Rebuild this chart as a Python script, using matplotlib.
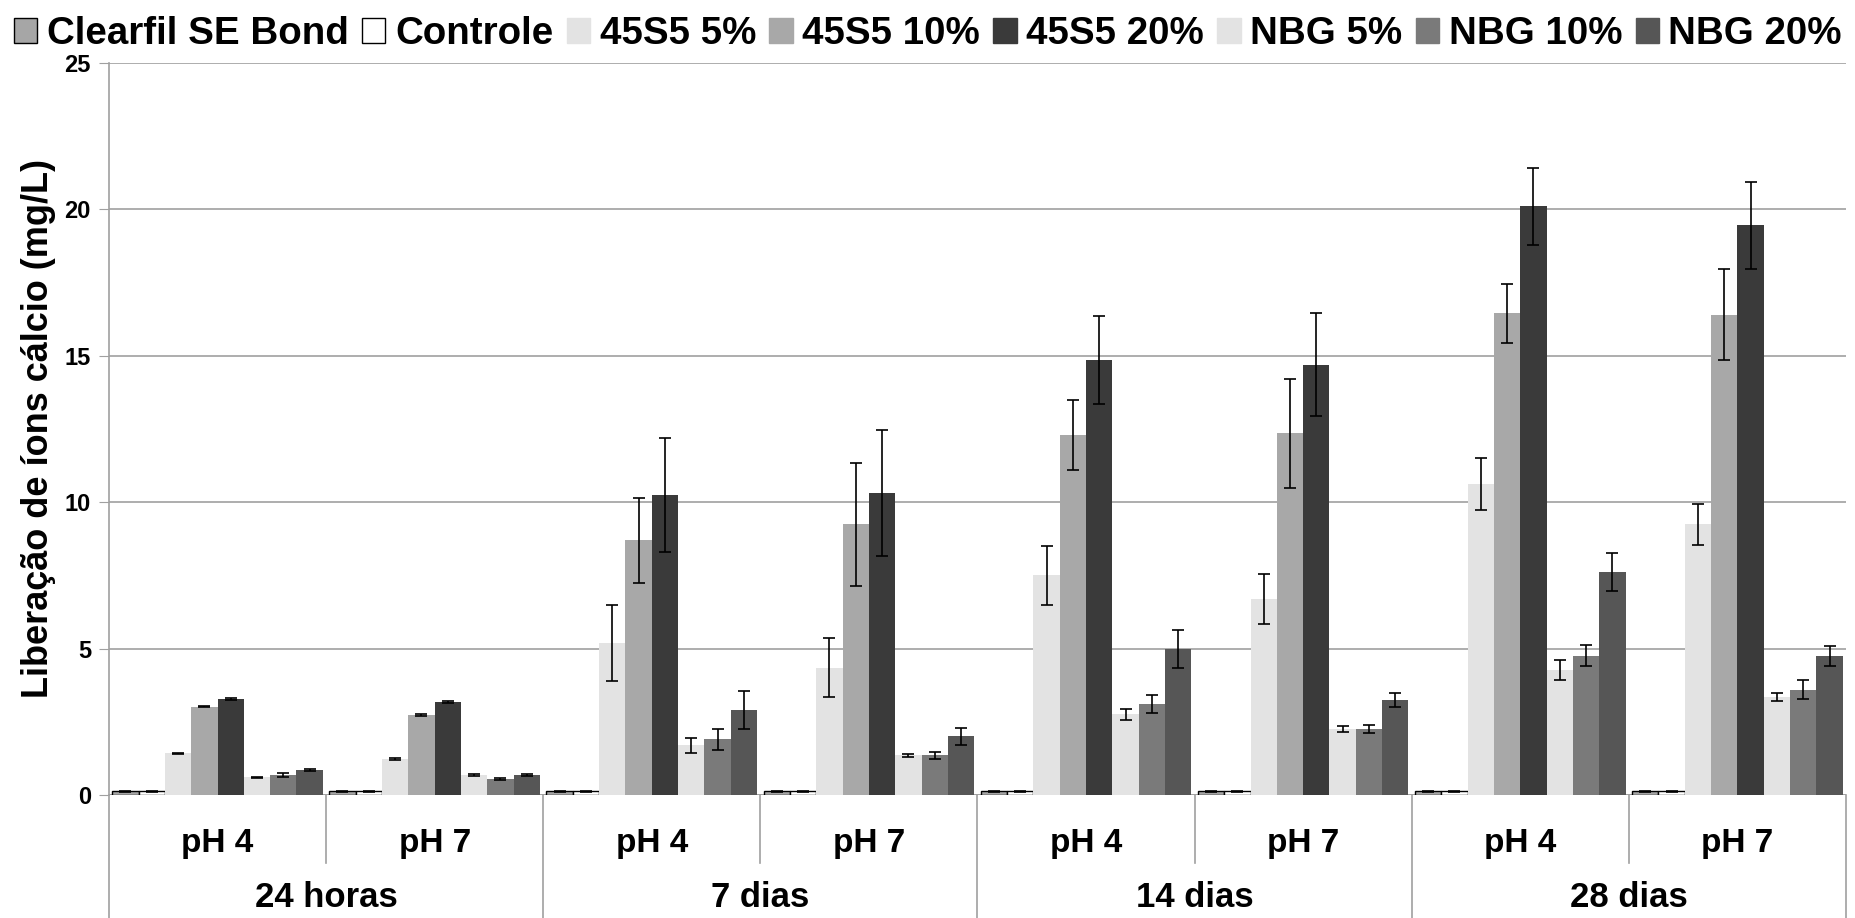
import numpy as np
import matplotlib.pyplot as plt
from matplotlib.patches import Patch

# data
periods = ['24 horas', '7 dias', '14 dias', '28 dias']
ph_labels = ['pH 4', 'pH 7']
series = ['Clearfil SE Bond', 'Controle', '45S5 5%', '45S5 10%', '45S5 20%',
          'NBG 5%', 'NBG 10%', 'NBG 20%']

clearfil = [0.12, 0.12, 0.12, 0.12, 0.12, 0.12, 0.12, 0.12]
controle = [0.12, 0.12, 0.12, 0.12, 0.12, 0.12, 0.12, 0.12]
s45_5 = [1.42, 1.22, 5.2, 4.35, 7.5, 6.7, 10.62, 9.25]
s45_10 = [3.02, 2.72, 8.7, 9.25, 12.3, 12.35, 16.45, 16.4]
s45_20 = [3.27, 3.18, 10.25, 10.3, 14.85, 14.7, 20.1, 19.45]
nbg_5 = [0.6, 0.68, 1.7, 1.35, 2.75, 2.25, 4.28, 3.35]
nbg_10 = [0.68, 0.55, 1.9, 1.35, 3.1, 2.25, 4.75, 3.6]
nbg_20 = [0.85, 0.68, 2.9, 2.0, 5.0, 3.25, 7.6, 4.75]

clearfil_err = [0.02, 0.02, 0.02, 0.02, 0.02, 0.02, 0.02, 0.02]
controle_err = [0.02, 0.02, 0.02, 0.02, 0.02, 0.02, 0.02, 0.02]
s45_5_err = [0.03, 0.03, 1.3, 1.0, 1.0, 0.85, 0.88, 0.7]
s45_10_err = [0.03, 0.03, 1.45, 2.1, 1.2, 1.85, 1.0, 1.55]
s45_20_err = [0.03, 0.03, 1.95, 2.15, 1.5, 1.75, 1.3, 1.5]
nbg_5_err = [0.03, 0.03, 0.25, 0.05, 0.2, 0.1, 0.34, 0.15]
nbg_10_err = [0.08, 0.03, 0.35, 0.12, 0.3, 0.15, 0.36, 0.33]
nbg_20_err = [0.03, 0.03, 0.65, 0.3, 0.65, 0.25, 0.65, 0.33]

values = [clearfil, controle, s45_5, s45_10, s45_20, nbg_5, nbg_10, nbg_20]
errors = [clearfil_err, controle_err, s45_5_err, s45_10_err, s45_20_err,
          nbg_5_err, nbg_10_err, nbg_20_err]
colors = ['#a6a6a6', '#ffffff', '#e3e3e3', '#a8a8a8', '#3a3a3a',
          '#e3e3e3', '#7a7a7a', '#565656']
edges = ['black', 'black', 'none', 'none', 'none', 'none', 'none', 'none']

plt.rcParams['font.family'] = ['Liberation Sans', 'DejaVu Sans']
plt.rcParams['font.weight'] = 'bold'
plt.rcParams['axes.labelweight'] = 'bold'

fig = plt.figure(figsize=(18.56, 9.18), dpi=100)
ax = fig.add_axes([0.0587, 0.134, 0.9359, 0.7974])

n_cat = len(periods) * len(ph_labels)
x = np.arange(n_cat)
bw = 0.97 / len(series)
for i in range(len(series)):
    pos = x - 0.485 + bw * (i + 0.5)
    ax.bar(pos, values[i], bw, color=colors[i],
           edgecolor=edges[i], linewidth=1.0, zorder=3)
    ax.errorbar(pos, values[i], yerr=errors[i], fmt='none', ecolor='black',
                elinewidth=1.2, capsize=4, capthick=1.2, zorder=4)

ax.set_xlim(-0.5, n_cat - 0.5)
ax.set_ylim(0, 25)
ax.set_yticks([0, 5, 10, 15, 20, 25])
ax.tick_params(axis='y', labelsize=17, color='#a0a0a0', length=7, pad=6)
ax.tick_params(axis='x', bottom=False, labelbottom=False)
ax.yaxis.grid(True, color='#a0a0a0', linewidth=1.2, zorder=0)
for s in ['top', 'right', 'bottom']:
    ax.spines[s].set_visible(False)
ax.spines['left'].set_color('#a0a0a0')
ax.spines['left'].set_linewidth(1.2)
ax.axhline(0, color='#a0a0a0', linewidth=1.2, zorder=2)
ax.set_ylabel('Liberação de íons cálcio (mg/L)', fontsize=26, labelpad=6)

# two-level category axis
trans = ax.get_xaxis_transform()
for k in range(n_cat):
    ax.text(x[k], -0.066, ph_labels[k % 2], transform=trans, ha='center',
            va='center', fontsize=24)
for g, name in enumerate(periods):
    ax.text(2 * g + 0.5, -0.14, name, transform=trans, ha='center',
            va='center', fontsize=25)
for k in range(n_cat + 1):
    xb = k - 0.5
    y_end = -0.17 if k % 2 == 0 else -0.093
    ax.plot([xb, xb], [0, y_end], transform=trans, color='#a0a0a0',
            linewidth=1.2, clip_on=False)

handles = [Patch(facecolor=colors[i],
                 edgecolor='black' if i < 2 else colors[i], linewidth=1.0)
           for i in range(len(series))]


def make_legend(size):
    return fig.legend(handles, series, loc='upper center',
                      bbox_to_anchor=(0.5, 1.012), ncol=len(series),
                      frameon=False, handlelength=0.6, handleheight=0.6,
                      handletextpad=0.25, columnspacing=0.35,
                      borderpad=0.2, prop={'weight': 'bold', 'size': size})


# size the legend so it fills the width like the original
leg = make_legend(28)
fig.canvas.draw()
w = leg.get_window_extent().width
leg.remove()
leg = make_legend(28 * 1845 / w)

fig.savefig('out.png', dpi=100)
